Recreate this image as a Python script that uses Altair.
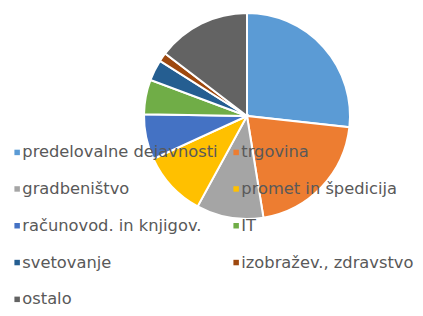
import altair as alt
import pandas as pd

categories = ["predelovalne dejavnosti", "trgovina", "gradbeništvo", "promet in špedicija",
              "računovod. in knjigov.", "IT", "svetovanje", "izobražev., zdravstvo", "ostalo"]
values = [26.7, 20.7, 10.5, 10.2, 7.1, 5.4, 3.3, 1.4, 14.6]
colors = ["#5B9BD5", "#ED7D31", "#A5A5A5", "#FFC000", "#4472C4", "#70AD47", "#255E91", "#9E480E", "#636363"]

df = pd.DataFrame({"category": categories, "value": values, "order": list(range(len(categories)))})

chart = alt.Chart(df).mark_arc(radius=103, stroke="white", strokeWidth=2).encode(
    theta=alt.Theta("value:Q", stack=True),
    order=alt.Order("order:Q"),
    color=alt.Color(
        "category:N",
        scale=alt.Scale(domain=categories, range=colors),
        legend=alt.Legend(
            orient="none", legendX=1, legendY=136, columns=2, columnPadding=10,
            direction="horizontal",
            rowPadding=19.8, symbolType="square", symbolSize=30, symbolStrokeWidth=0,
            labelFontSize=16.3, labelFont="DejaVu Sans", labelColor="#595959",
            labelLimit=300, labelOffset={"expr": "-3"}, title=None, zindex=1, padding=0,
        ),
    ),
    x=alt.value(239),
    y=alt.value(108),
).properties(width=407, height=300, padding=0, autosize="none").configure_view(stroke=None)

chart.save("out.html", embed_options={"renderer": "svg", "actions": False})
